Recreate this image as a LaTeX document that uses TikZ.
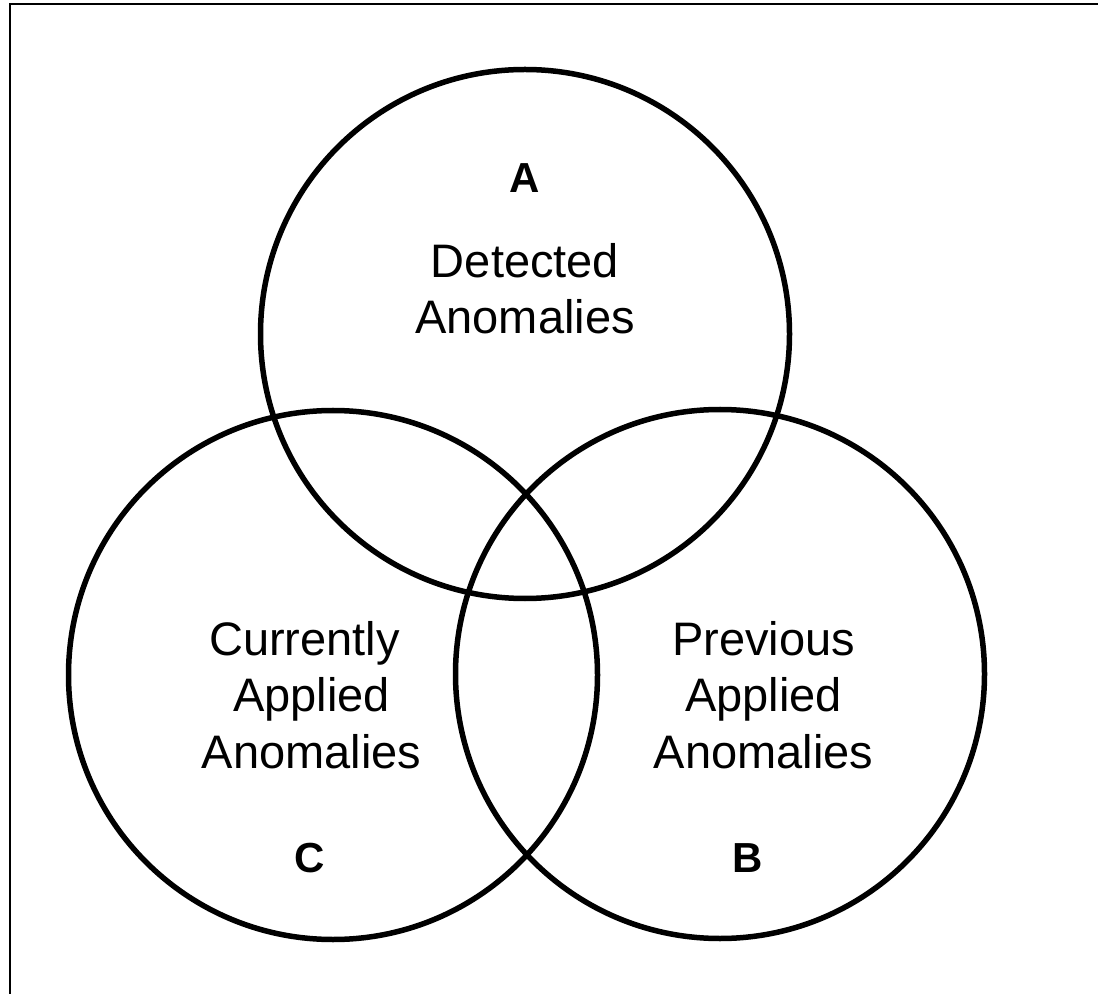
\documentclass[tikz,border=0pt]{standalone}
\usepackage{fontspec}
\setmainfont{Liberation Sans}
\begin{document}
\begin{tikzpicture}[x=0.5pt,y=-0.5pt,
  ring/.style={circle,draw,line width=2.75pt,minimum size=264.5pt,inner sep=0pt},
  lbl/.style={anchor=base,font=\fontsize{23.5pt}{28pt}\selectfont,inner sep=0pt},
  letter/.style={anchor=base,font=\fontsize{21pt}{25pt}\selectfont\bfseries,inner sep=0pt}]
\useasboundingbox (0,0) rectangle (1098,994);
\coordinate (tl) at (10,4);
\coordinate (bl) at (10,994);
\coordinate (tr) at (1098,4);
\draw[line width=0.75pt] (bl) -- (tl) -- (tr);
\node[ring] (cA) at (525,334) {};
\node[ring] (cC) at (333,675) {};
\node[ring] (cB) at (720,674) {};
\node[letter] (lA) at (525,193) {A};
\node[lbl] (a1) at (525,278) {Detected};
\node[lbl] (a2) at (525,334) {Anomalies};
\node[lbl] (c1) at (304.6,655) {Currently};
\node[lbl] (c2) at (311.5,711) {Applied};
\node[lbl] (c3) at (311.5,768) {Anomalies};
\node[letter] (lC) at (310,872) {C};
\node[lbl] (b1) at (763.5,655) {Previous};
\node[lbl] (b2) at (763.5,711) {Applied};
\node[lbl] (b3) at (763.5,768) {Anomalies};
\node[letter] (lB) at (748,872) {B};
\end{tikzpicture}
\end{document}
